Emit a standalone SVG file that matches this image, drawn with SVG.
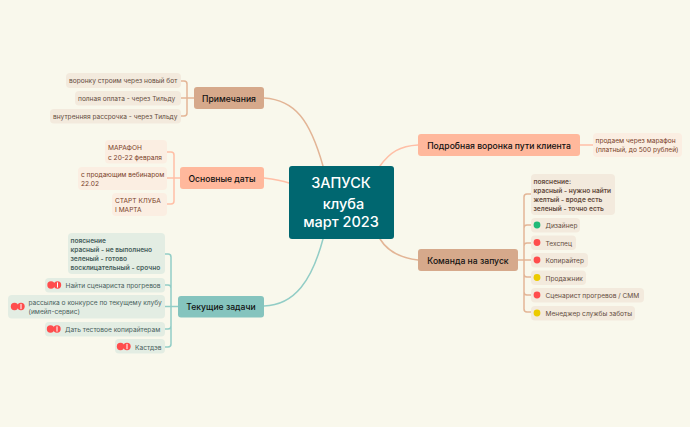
<svg xmlns="http://www.w3.org/2000/svg" width="690" height="427" viewBox="0 0 690 427">
<style>
text{font-family:"Inter","Liberation Sans",sans-serif}
.c{fill:none;stroke-width:1.5;stroke-linecap:round}
.b{stroke:#e3b596}.o{stroke:#ffbfa6}.t{stroke:#92cdc6}
.m{font-size:8.6px;font-weight:500;fill:#111;text-anchor:middle}
.l{font-size:6.6px}
.lb{fill:#f3eadd}.lo{fill:#fbeee2}.lt{fill:#e3ede3}
.tb{fill:#654c3e}.to{fill:#7a3e28}.tt{fill:#48605c}
.s{font-weight:600}
.r{fill:#ff4d4d}.g{fill:#1fba78}.y{fill:#eccb00}
</style>
<defs>
<g id="excl"><circle r="3.7" fill="#ff4d4d"/><rect x="-0.5" y="-2.6" width="1" height="5.2" fill="#fff"/></g>
</defs>
<rect width="690" height="427" fill="#f9f8ec"/>
<g id="connectors">
<path class="c b" d="M264 98C295 100 310 120 323 166"/>
<path class="c o" d="M264 178C272 179 280 180 289 183"/>
<path class="c t" d="M264 306C295 305 312 280 323 239"/>
<path class="c o" d="M380 166C390 152 400 146 418 145"/>
<path class="c b" d="M380 239C388 252 400 258 418 260"/>
<path class="c b" d="M181 81H184Q187 81 187 84V113Q187 116 184 116H181M194 98H181"/>
<path class="c o" d="M167 152H171Q174 152 174 155V201Q174 204 171 204H167M180 178H167"/>
<path class="c t" d="M165 254H168Q171 254 171 257V344Q171 347 168 347H165M165 285H168Q171 285 171 288M178 306.500H165M165 329H168Q171 329 171 326"/>
<path class="c o" d="M580 145H593"/>
<path class="c b" d="M531 194H527Q524 194 524 197V309Q524 312 527 312H531M531 225H527Q524 225 524 228M531 243H527Q524 243 524 246M518 260H531M524 274Q524 277 527 277H531M524 292Q524 295 527 295H531"/>
</g>
<g id="center"><rect x="289" y="166" width="105" height="73" rx="3" fill="#006770"/>
<text font-size="14.500" font-weight="500" fill="#fff" text-anchor="middle"><tspan x="341" y="188">ЗАПУСК</tspan><tspan x="343.500" y="208.500">клуба</tspan><tspan x="341" y="227">март 2023</tspan></text></g>
<g id="n-notes"><rect x="194" y="87" width="70" height="22" rx="3" fill="#d6a98b"/><text class="m" x="229" y="101.500">Примечания</text></g>
<g id="n-dates"><rect x="180" y="167" width="84" height="22" rx="3" fill="#ffb89c"/><text class="m" x="222" y="181.500">Основные даты</text></g>
<g id="n-tasks"><rect x="178" y="296" width="86" height="21.500" rx="3" fill="#85c4be"/><text class="m" x="221" y="310">Текущие задачи</text></g>
<g id="n-funnel"><rect x="418" y="134" width="162" height="22" rx="3" fill="#ffb89c"/><text class="m" x="499" y="148.500">Подробная воронка пути клиента</text></g>
<g id="n-team"><rect x="418" y="249" width="100" height="22" rx="3" fill="#d6a98b"/><text class="m" x="468" y="263.500">Команда на запуск</text></g>
<g id="l1"><rect class="lb" x="66" y="73" width="115" height="15" rx="4"/><text class="l tb" x="69" y="83">воронку строим через новый бот</text></g>
<g id="l2"><rect class="lb" x="75" y="91" width="106" height="14.500" rx="4"/><text class="l tb" x="78" y="101">полная оплата - через Тильду</text></g>
<g id="l3"><rect class="lb" x="50" y="109" width="131" height="14.500" rx="4"/><text class="l tb" x="53" y="119">внутренняя рассрочка - через Тильду</text></g>
<g id="l4"><rect class="lo" x="105" y="140" width="62" height="23.500" rx="4"/><text class="l to"><tspan x="108" y="150">МАРАФОН</tspan><tspan x="108" y="159.500">с 20-22 февраля</tspan></text></g>
<g id="l5"><rect class="lo" x="78" y="167" width="89" height="23" rx="4"/><text class="l to"><tspan x="81" y="177">с продающим вебинаром</tspan><tspan x="81" y="186">22.02</tspan></text></g>
<g id="l6"><rect class="lo" x="112" y="193" width="55" height="23" rx="4"/><text class="l to"><tspan x="115" y="203">СТАРТ КЛУБА</tspan><tspan x="115" y="212">I МАРТА</tspan></text></g>
<g id="l7"><rect class="lt" x="68" y="233" width="97" height="41" rx="4"/><text class="l tt s"><tspan x="70.500" y="243">пояснение</tspan><tspan x="70.500" y="252">красный - не выполнено</tspan><tspan x="70.500" y="261">зеленый - готово</tspan><tspan x="70.500" y="270">восклицательный - срочно</tspan></text></g>
<g id="l8"><rect class="lt" x="45" y="278" width="120" height="14.500" rx="4"/><circle class="r" cx="51" cy="285" r="3.700"/><use href="#excl" x="57.500" y="285"/><text class="l tt" x="65.500" y="288">Найти сценариста прогревов</text></g>
<g id="l9"><rect class="lt" x="8" y="295" width="157" height="23.500" rx="4"/><circle class="r" cx="14.500" cy="306.500" r="3.700"/><use href="#excl" x="21" y="306.500"/><text class="l tt"><tspan x="28.500" y="305">рассылка о конкурсе по текущему клубу</tspan><tspan x="28.500" y="314">(имейл-сервис)</tspan></text></g>
<g id="l10"><rect class="lt" x="45" y="322" width="120" height="14.500" rx="4"/><circle class="r" cx="50.500" cy="329" r="3.700"/><use href="#excl" x="57" y="329"/><text class="l tt" x="65" y="332">Дать тестовое копирайтерам</text></g>
<g id="l11"><rect class="lt" x="115" y="339" width="50" height="14.500" rx="4"/><circle class="r" cx="120.500" cy="346.500" r="3.700"/><use href="#excl" x="127" y="346.500"/><text class="l tt" x="135" y="349.500">Кастдэв</text></g>
<g id="r1"><rect class="lo" x="593" y="133" width="89" height="24" rx="4"/><text class="l to"><tspan x="595.500" y="143">продаем через марафон</tspan><tspan x="595.500" y="152">(платный, до 500 рублей)</tspan></text></g>
<g id="r2"><rect class="lb" x="531" y="174" width="84" height="41" rx="4"/><text class="l tb s"><tspan x="533.500" y="184">пояснение:</tspan><tspan x="533.500" y="193">красный - нужно найти</tspan><tspan x="533.500" y="202">желтый - вроде есть</tspan><tspan x="533.500" y="211">зеленый - точно есть</tspan></text></g>
<g id="r3"><rect class="lb" x="531" y="218" width="49" height="14.500" rx="4"/><circle class="g" cx="537" cy="225" r="3.400"/><text class="l tb" x="545.500" y="228">Дизайнер</text></g>
<g id="r4"><rect class="lb" x="531" y="235.500" width="45" height="14.500" rx="4"/><circle class="r" cx="537" cy="242.500" r="3.400"/><text class="l tb" x="545.500" y="245.500">Техспец</text></g>
<g id="r5"><rect class="lb" x="531" y="253" width="57" height="14.500" rx="4"/><circle class="r" cx="537" cy="260" r="3.400"/><text class="l tb" x="545.500" y="263">Копирайтер</text></g>
<g id="r6"><rect class="lb" x="531" y="270.500" width="55" height="14.500" rx="4"/><circle class="y" cx="537" cy="277.500" r="3.400"/><text class="l tb" x="545.500" y="280.500">Продажник</text></g>
<g id="r7"><rect class="lb" x="531" y="288" width="113" height="14.500" rx="4"/><circle class="r" cx="537" cy="295" r="3.400"/><text class="l tb" x="545.500" y="298">Сценарист прогревов / СММ</text></g>
<g id="r8"><rect class="lb" x="531" y="306" width="104" height="14.500" rx="4"/><circle class="y" cx="537" cy="313" r="3.400"/><text class="l tb" x="545.500" y="316">Менеджер службы заботы</text></g>
</svg>
